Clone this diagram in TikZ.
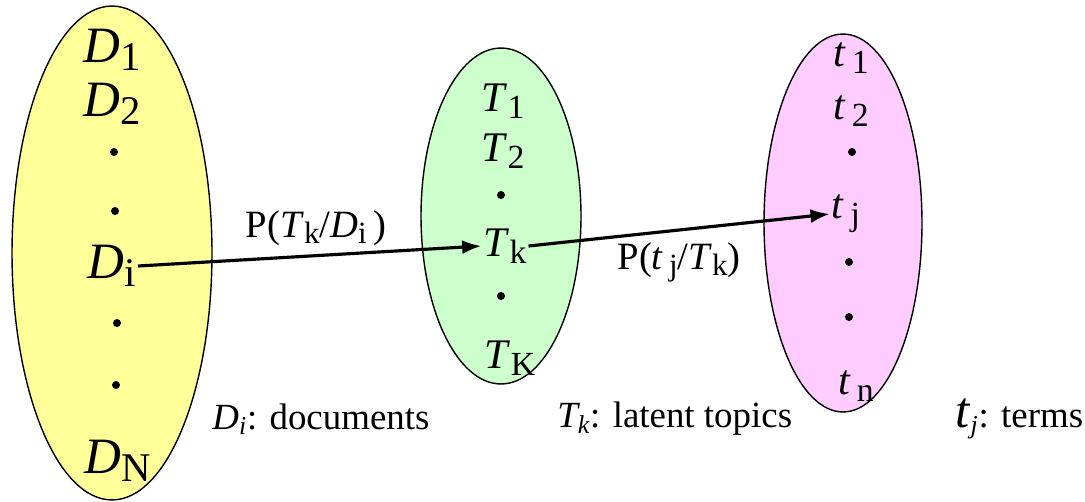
\documentclass[tikz,border=0pt]{standalone}
\usepackage{fontspec}
\setmainfont{Liberation Serif}
\usepackage{xcolor}
\usetikzlibrary{positioning, shapes.geometric, arrows.meta}
\definecolor{docfill}{HTML}{FFFF99}
\definecolor{topicfill}{HTML}{CCFFCC}
\definecolor{termfill}{HTML}{FFCCFF}
% italic letter with upright, lowered subscript
\newcommand{\sym}[2]{\textit{#1}\raisebox{-0.35ex}{\scalebox{0.8}{#2}}}

\begin{document}
\begin{tikzpicture}[x=0.02cm, y=-0.02cm,
  set/.style={draw=black, line width=0.8pt, ellipse, inner sep=0pt},
  item/.style={font=\fontsize{24}{24}\selectfont, inner sep=1pt},
  bigitem/.style={font=\fontsize{29}{29}\selectfont, inner sep=1pt},
  prob/.style={font=\fontsize{22}{22}\selectfont, inner sep=1pt},
  legend/.style={font=\fontsize{21}{21}\selectfont, anchor=west, inner sep=0pt},
  link/.style={-{Latex[length=11pt,width=8pt]}, line width=1.8pt}
]
  \useasboundingbox (0,0) rectangle (1085,501);

  % the three sets
  \node[set, fill=docfill, minimum width=4cm, minimum height=9.88cm] (docs) at (112,253) {};
  \node[set, fill=topicfill, minimum width=3.2cm, minimum height=6.72cm] (topics) at (501,216) {};
  \node[set, fill=termfill, minimum width=3.16cm, minimum height=7.56cm] (terms) at (843,223) {};

  % documents
  \node[bigitem] (d1) at (112,50) {\sym{D}{1}};
  \node[bigitem] (d2) at (112,104) {\sym{D}{2}};
  \node[bigitem] (di) at (112,266) {\sym{D}{i}};
  \node[bigitem] (dn) at (118,461) {\sym{D}{N}};

  % topics
  \node[item] (t1) at (503,101) {\sym{T}{1}};
  \node[item] (t2) at (503,151) {\sym{T}{2}};
  \node[item] (tk) at (505,246) {\sym{T}{k}};
  \node[item] (tK) at (510,358) {\sym{T}{K}};

  % terms
  \node[item] (w1) at (851,58) {\sym{t\,}{1}};
  \node[item] (w2) at (851,111) {\sym{t\,}{2}};
  \node[item] (wj) at (846,214) {\sym{t\,}{j}};
  \node[item] (wn) at (856,386) {\sym{t\,}{n}};

  % Dots
  \foreach \x/\y in {114/152, 115/211, 117/323, 116/385, 501/195, 501/296, 852/152, 849/262, 849/317}
    \fill (\x,\y) circle (4);

  % arrows
  \draw[link] (di.east) -- (tk.west);
  \draw[link] (tk.east) -- (wj.west);
  \node[prob] (pdt) at (316,228) {P(\sym{T}{k}/\sym{D}{i}\,)};
  \node[prob] (ptw) at (679,262) {P(\sym{t\,}{j}/\sym{T}{k})};

  % legend
  \node[legend] (ld) at (212,419) {\textit{D\textsubscript{i}}: documents};
  \node[legend] (lt) at (557,419) {\textit{T\textsubscript{k}}: latent topics};
  \node[legend] (lw) at (955,419) {{\fontsize{29}{29}\selectfont\textit{t}}\textit{\textsubscript{j}}: terms};

\end{tikzpicture}
\end{document}
